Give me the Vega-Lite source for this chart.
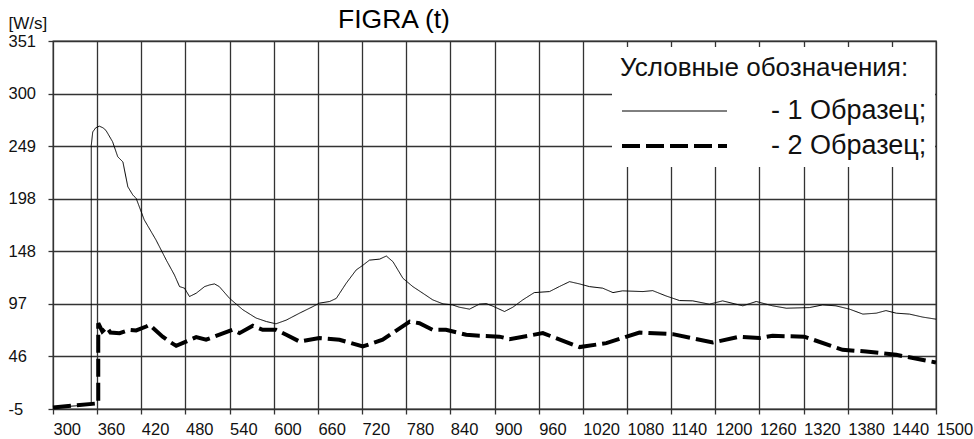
{
  "$schema": "https://vega.github.io/schema/vega-lite/v6.json",
  "width": 883,
  "height": 368,
  "autosize": "none",
  "padding": {"left": 53, "top": 41, "right": 38, "bottom": 30},
  "background": "white",
  "title": {"text": "FIGRA (t)", "anchor": "start", "frame": "group", "dx": 285, "dy": 40, "fontSize": 26.5, "font": "Liberation Sans", "fontWeight": "normal", "baseline": "alphabetic", "offset": 0, "color": "black"},
  "config": {
    "view": {"stroke": "#333333", "strokeWidth": 1.3},
    "axis": {"gridColor": "#333333", "gridWidth": 1.3, "gridOpacity": 1, "domain": false, "tickColor": "#333333", "tickSize": 5, "tickWidth": 1.3, "labelFont": "Liberation Sans", "labelColor": "#111111", "labelFontSize": 16.5, "titleFont": "Liberation Sans"}
  },
  "data": {"values": [
    {"t":300,"v":-3.5,"s":"1"},{"t":330,"v":-2,"s":"1"},{"t":352,"v":-1,"s":"1"},{"t":352,"v":250,"s":"1"},{"t":354,"v":263,"s":"1"},{"t":358,"v":267,"s":"1"},{"t":363,"v":268.6,"s":"1"},{"t":368,"v":267,"s":"1"},{"t":372,"v":264.5,"s":"1"},{"t":381,"v":253.5,"s":"1"},{"t":388,"v":239,"s":"1"},{"t":395,"v":234,"s":"1"},{"t":401.7,"v":210,"s":"1"},{"t":408.5,"v":202,"s":"1"},{"t":413,"v":198.8,"s":"1"},{"t":424,"v":178,"s":"1"},{"t":440,"v":158.5,"s":"1"},{"t":454,"v":139,"s":"1"},{"t":465,"v":124.7,"s":"1"},{"t":472,"v":113.4,"s":"1"},{"t":478.7,"v":111.9,"s":"1"},{"t":485.5,"v":103.8,"s":"1"},{"t":494.6,"v":107,"s":"1"},{"t":506,"v":113.4,"s":"1"},{"t":512.7,"v":115,"s":"1"},{"t":519.5,"v":116,"s":"1"},{"t":526,"v":113.4,"s":"1"},{"t":540,"v":102,"s":"1"},{"t":558,"v":91,"s":"1"},{"t":576,"v":83,"s":"1"},{"t":590,"v":79.6,"s":"1"},{"t":603,"v":77.4,"s":"1"},{"t":617,"v":81,"s":"1"},{"t":635,"v":87.7,"s":"1"},{"t":653,"v":94,"s":"1"},{"t":662,"v":97.4,"s":"1"},{"t":676,"v":99,"s":"1"},{"t":685,"v":102,"s":"1"},{"t":698.5,"v":116.7,"s":"1"},{"t":712,"v":129.5,"s":"1"},{"t":721,"v":134,"s":"1"},{"t":730,"v":139,"s":"1"},{"t":744,"v":140,"s":"1"},{"t":753,"v":143,"s":"1"},{"t":762,"v":137.5,"s":"1"},{"t":775.5,"v":121.5,"s":"1"},{"t":789,"v":113.4,"s":"1"},{"t":802.6,"v":107,"s":"1"},{"t":816,"v":100.6,"s":"1"},{"t":830,"v":96.7,"s":"1"},{"t":843,"v":95.7,"s":"1"},{"t":852,"v":93.5,"s":"1"},{"t":866,"v":91.6,"s":"1"},{"t":879.6,"v":96.5,"s":"1"},{"t":888.7,"v":97,"s":"1"},{"t":897.7,"v":94.5,"s":"1"},{"t":913.6,"v":89.3,"s":"1"},{"t":925,"v":93.5,"s":"1"},{"t":938.5,"v":100.6,"s":"1"},{"t":954,"v":107.6,"s":"1"},{"t":974.8,"v":108.6,"s":"1"},{"t":988,"v":113.4,"s":"1"},{"t":1002,"v":118.2,"s":"1"},{"t":1015.6,"v":116,"s":"1"},{"t":1029,"v":113.4,"s":"1"},{"t":1047,"v":111.9,"s":"1"},{"t":1061,"v":107.6,"s":"1"},{"t":1074,"v":109.3,"s":"1"},{"t":1101.6,"v":108.6,"s":"1"},{"t":1115,"v":109.5,"s":"1"},{"t":1133,"v":104.4,"s":"1"},{"t":1151.5,"v":99.9,"s":"1"},{"t":1169.5,"v":99.6,"s":"1"},{"t":1192,"v":96.4,"s":"1"},{"t":1210,"v":99.6,"s":"1"},{"t":1237.5,"v":94.8,"s":"1"},{"t":1255.7,"v":99,"s":"1"},{"t":1278,"v":94.8,"s":"1"},{"t":1296.5,"v":92.5,"s":"1"},{"t":1328,"v":93.1,"s":"1"},{"t":1346,"v":95.7,"s":"1"},{"t":1364,"v":94.8,"s":"1"},{"t":1382.5,"v":91.6,"s":"1"},{"t":1400.6,"v":86.8,"s":"1"},{"t":1418.8,"v":87.7,"s":"1"},{"t":1432,"v":90.2,"s":"1"},{"t":1446,"v":87.7,"s":"1"},{"t":1464,"v":86.8,"s":"1"},{"t":1482,"v":83.9,"s":"1"},{"t":1500,"v":81.9,"s":"1"},
    {"t":300,"v":-3.5,"s":"2"},{"t":330,"v":-1.5,"s":"2"},{"t":361.5,"v":0.5,"s":"2"},{"t":361.5,"v":78,"s":"2"},{"t":367,"v":70,"s":"2"},{"t":373,"v":74,"s":"2"},{"t":378,"v":69,"s":"2"},{"t":390.5,"v":68.4,"s":"2"},{"t":404,"v":71.6,"s":"2"},{"t":413,"v":71,"s":"2"},{"t":426.7,"v":74.8,"s":"2"},{"t":431,"v":76.4,"s":"2"},{"t":449,"v":65,"s":"2"},{"t":458,"v":60.3,"s":"2"},{"t":467.4,"v":56.1,"s":"2"},{"t":494.6,"v":64.5,"s":"2"},{"t":508,"v":62,"s":"2"},{"t":544,"v":71.6,"s":"2"},{"t":553.5,"v":68.4,"s":"2"},{"t":571.5,"v":75.5,"s":"2"},{"t":585,"v":71.6,"s":"2"},{"t":603,"v":71.6,"s":"2"},{"t":617,"v":66.8,"s":"2"},{"t":635,"v":60.3,"s":"2"},{"t":662,"v":63.6,"s":"2"},{"t":689.4,"v":62,"s":"2"},{"t":721,"v":55.5,"s":"2"},{"t":748,"v":62,"s":"2"},{"t":784.8,"v":79.6,"s":"2"},{"t":798,"v":78,"s":"2"},{"t":816,"v":71.6,"s":"2"},{"t":834,"v":71.6,"s":"2"},{"t":861.6,"v":66.8,"s":"2"},{"t":879.6,"v":65.8,"s":"2"},{"t":906.8,"v":65,"s":"2"},{"t":920.4,"v":62.6,"s":"2"},{"t":965.7,"v":68.4,"s":"2"},{"t":1015.6,"v":54.9,"s":"2"},{"t":1052,"v":58.7,"s":"2"},{"t":1097,"v":69,"s":"2"},{"t":1142.4,"v":67.4,"s":"2"},{"t":1196.7,"v":59.3,"s":"2"},{"t":1233,"v":65,"s":"2"},{"t":1260,"v":63.6,"s":"2"},{"t":1278,"v":65.8,"s":"2"},{"t":1321,"v":65,"s":"2"},{"t":1373,"v":52.3,"s":"2"},{"t":1405,"v":50.6,"s":"2"},{"t":1446,"v":47.4,"s":"2"},{"t":1500,"v":40,"s":"2"}
  ]},
  "mark": {"type": "line", "color": "black", "strokeCap": "butt", "interpolate": "linear"},
  "encoding": {
    "x": {"field": "t", "type": "quantitative", "scale": {"domain": [300, 1500], "nice": false, "zero": false},
      "axis": {"title": null, "format": "d", "values": [300,360,420,480,540,600,660,720,780,840,900,960,1020,1080,1140,1200,1260,1320,1380,1440,1500], "labelAlign": "left", "labelBaseline": "top", "labelPadding": 7, "labelFlush": false, "labelOverlap": false, "labelBound": false}},
    "y": {"field": "v", "type": "quantitative", "scale": {"domain": [-5, 351], "nice": false, "zero": false},
      "axis": {"title": "[W/s]", "titleAngle": 0, "titleAlign": "left", "titleBaseline": "middle", "titleX": -45, "titleY": -18, "titleFontSize": 17, "titleFontWeight": "normal", "titleColor": "#111111",
        "values": [-5, 45.857, 96.714, 147.571, 198.429, 249.286, 300.143, 351], "labelExpr": "'' + round(datum.value)", "labelAlign": "left", "labelBaseline": "middle", "labelPadding": 40, "labelOverlap": false, "labelFlush": false}},
    "strokeDash": {"field": "s", "type": "ordinal", "scale": {"domain": ["1", "2"], "range": [[1, 0], [18, 6]]},
      "legend": {"orient": "none", "legendX": 559, "legendY": 6, "title": "Условные обозначения:", "titleFont": "Liberation Sans", "titleFontSize": 26, "titleFontWeight": "normal", "titleColor": "#111111", "titlePadding": 17, "titleLimit": 600,
        "labelFont": "Liberation Sans", "labelFontSize": 27, "labelColor": "#111111", "labelOffset": 42, "labelLimit": 400, "labelExpr": "'- ' + datum.label + ' Образец;'",
        "symbolType": "stroke", "symbolSize": 11025, "symbolStrokeColor": "black", "fillColor": "white", "padding": 8, "clipHeight": 26, "rowPadding": 8}},
    "strokeWidth": {"field": "s", "type": "ordinal", "scale": {"domain": ["1", "2"], "range": [1, 4]}}
  }
}
